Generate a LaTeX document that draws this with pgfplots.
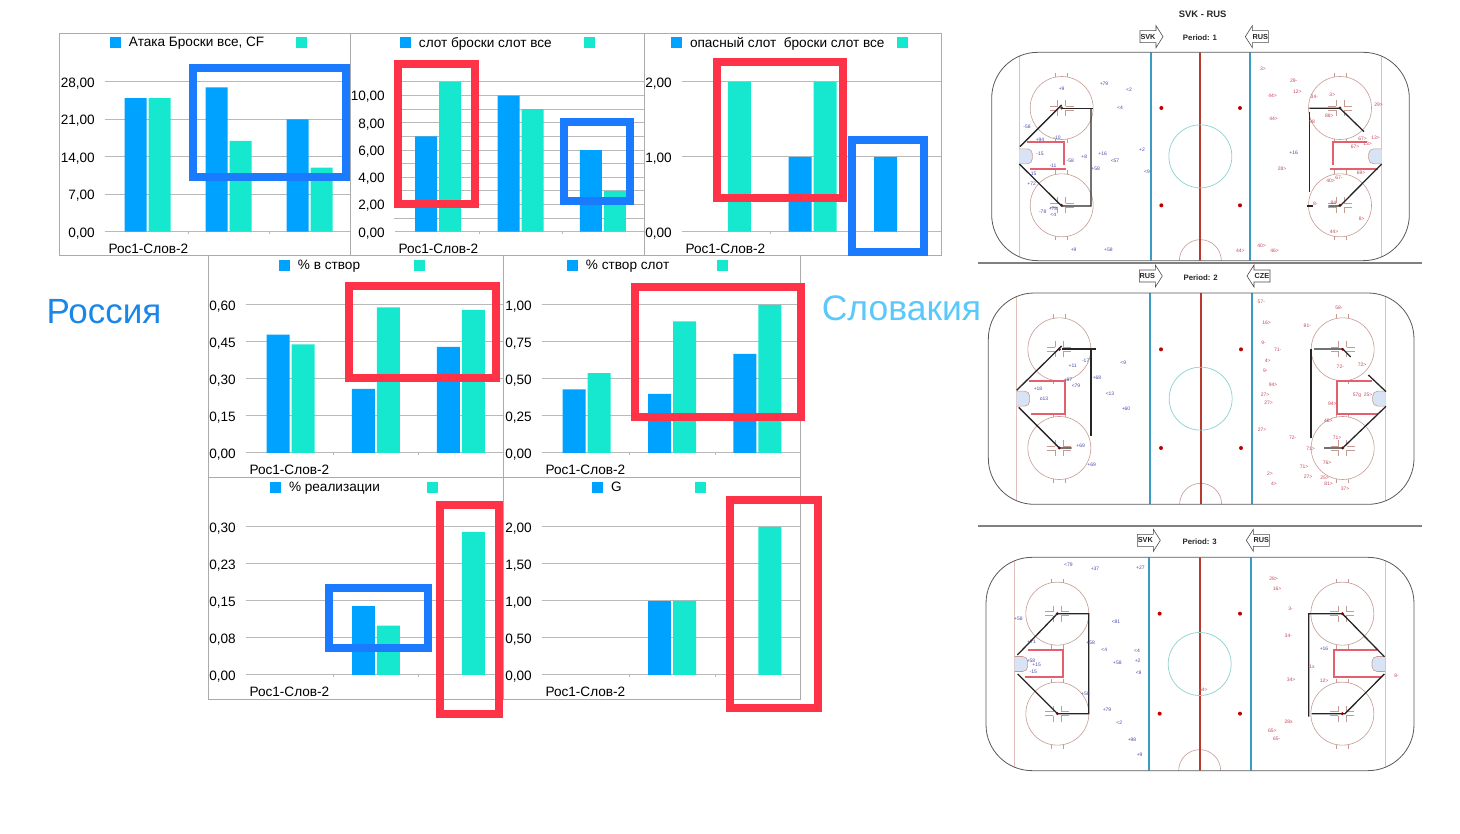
\documentclass[border=0pt]{standalone}
\usepackage{fontspec}
\setmainfont{Liberation Sans}
\usepackage{pgfplots}
\pgfplotsset{compat=1.18}

\definecolor{barblue}{HTML}{00A2FF}
\definecolor{barteal}{HTML}{16E7CF}
\definecolor{hlblue}{HTML}{1A7BFF}
\definecolor{hlred}{HTML}{FF3347}
\definecolor{gridgray}{HTML}{B9B9B9}
\definecolor{framegray}{HTML}{ABABAB}
\definecolor{rusblue}{HTML}{1A86E8}
\definecolor{svkblue}{HTML}{5AC8FA}
\definecolor{labblue}{HTML}{4A4AA8}
\definecolor{labred}{HTML}{C2485A}
\definecolor{rinkred}{HTML}{C49A92}
\definecolor{goalred}{HTML}{E0C0B8}
\definecolor{lineblue}{HTML}{3A9CC0}
\definecolor{linered}{HTML}{B83A2E}
\definecolor{zonered}{HTML}{E5606E}
\definecolor{creasefill}{HTML}{D8E4F5}
\definecolor{circteal}{HTML}{8CCFCF}

\newcommand{\tfont}{\fontsize{13.6}{16}\selectfont}

\pgfplotsset{
  panel/.style={
    scale only axis, anchor=south west, clip=false,
    ybar=2pt, xmin=-0.5, xmax=2.5, ymin=0,
    axis x line*=bottom, axis y line*=left,
    x axis line style={draw=gridgray, line width=1pt},
    y axis line style={draw=none},
    xtick={0.5,1.5,2.5}, xticklabels={},
    xtick style={draw=gridgray}, ytick style={draw=gridgray, line width=1pt},
    major tick length=2.5pt, tick align=outside,
    ymajorgrids=true, grid style={draw=gridgray, line width=1pt},
    /pgf/number format/.cd, fixed, fixed zerofill, precision=2, use comma, assume math mode=true,
    /pgfplots/.cd,
    ticklabel style={font=\tfont},
    yticklabel style={inner sep=0pt, xshift=-9.5pt, yshift=-1.5pt},
    xlabel={Рос1-Слов-2},
    x label style={at={(axis description cs:0,0)}, anchor=west, font=\tfont, yshift=-17pt, xshift=-2pt},
    legend cell align=left,
    legend image code/.code={\fill[##1] (0pt,-5.5pt) rectangle (11pt,5.5pt);},
  },
  leg/.style n args={3}{
    legend style={at={(axis description cs:#1,#2)}, anchor=west, draw=none, fill=none,
      inner sep=0pt, outer sep=0pt, font=\tfont, legend columns=2,
      nodes={inner sep=0pt},
      /tikz/column 1/.style={column sep=8pt},
      /tikz/column 2/.style={column sep=#3pt},
      /tikz/column 3/.style={column sep=0pt}},
  },
  sblue/.style={fill=barblue, draw=none},
  steal/.style={fill=barteal, draw=none},
  rink/.style={hide axis, scale only axis, anchor=south west, y dir=reverse,
    xmin=0, ymin=0, xmax=1350, clip=false, width=450pt},
  blk/.style={draw=black!85, line width=1.3pt},
  rd/.style={draw=zonered, line width=1.7pt},
  lab/.style={draw=none, mark=none, nodes near coords, point meta=explicit symbolic,
    nodes near coords align={anchor=center},
    every node near coord/.append style={text=#1, inner sep=0pt,
      font=\fontsize{5}{5}\selectfont}},
}

% face-off circle, hash marks and dot, sizes in page points
\newcommand{\faceoff}[2]{%
  \begin{scope}[shift={(axis cs:#1,#2)}]
    \draw[rinkred, line width=0.6pt] (0pt,0pt) circle[radius=31.5pt];
    \draw[rinkred, line width=0.6pt]
      (4pt,2pt)--(12pt,2pt) (4pt,2pt)--(4pt,8pt) (-4pt,2pt)--(-12pt,2pt) (-4pt,2pt)--(-4pt,8pt)
      (4pt,-2pt)--(12pt,-2pt) (4pt,-2pt)--(4pt,-8pt) (-4pt,-2pt)--(-12pt,-2pt) (-4pt,-2pt)--(-4pt,-8pt)
      (6pt,31pt)--(6pt,35pt) (-6pt,31pt)--(-6pt,35pt) (6pt,-31pt)--(6pt,-35pt) (-6pt,-31pt)--(-6pt,-35pt);
    \fill[red!70!black] (0pt,0pt) circle[radius=1.6pt];
  \end{scope}}
\newcommand{\crease}[2]{%
  \begin{scope}[shift={(axis cs:#1,\CY)}, xscale=#2]
    \draw[rinkred, fill=creasefill, line width=0.6pt, rounded corners=5pt]
      (0pt,7.5pt)--(13pt,7.5pt)--(13pt,-7.5pt)--(0pt,-7.5pt);
  \end{scope}}
\newcommand{\arrowbox}[4]{%
  \begin{scope}[shift={(axis cs:#1,#2)}, xscale=#3]
    \draw[black!70, fill=white, line width=0.6pt]
      (0pt,6pt)--(16pt,6pt)--(16pt,11pt)--(23pt,0pt)--(16pt,-11pt)--(16pt,-6pt)--(0pt,-6pt)--cycle;
    \node[font=\bfseries\fontsize{7.3}{8}\selectfont, black!85] at (8pt,0pt) {#4};
  \end{scope}}
\newcommand{\rinkbase}{%
  \begin{scope}
    \clip[rounded corners=46pt] (axis cs:\dL,\dT) rectangle (axis cs:\dR,\dB);
    \draw[goalred, line width=0.9pt] (axis cs:\GL,\dT)--(axis cs:\GL,\dB) (axis cs:\GR,\dT)--(axis cs:\GR,\dB);
    \draw[lineblue, line width=1.7pt] (axis cs:\BL,\dT)--(axis cs:\BL,\dB) (axis cs:\BR,\dT)--(axis cs:\BR,\dB);
    \draw[rinkred, line width=0.6pt] (axis cs:\CX,\dB) circle[radius=21pt];
    \draw[linered, line width=1.8pt] (axis cs:\CX,\dT)--(axis cs:\CX,\dB);
  \end{scope}
  \draw[black!65, line width=0.8pt, rounded corners=46pt] (axis cs:\dL,\dT) rectangle (axis cs:\dR,\dB);
  \draw[circteal, line width=0.7pt] (axis cs:\CX,\CY) circle[radius=31.5pt];
  \faceoff{\FL}{\YA}\faceoff{\FL}{\YB}\faceoff{\FR}{\YA}\faceoff{\FR}{\YB}
  \crease{\GL}{1}\crease{\GR}{-1}
  \fill[red!75!black] (axis cs:\DL,\YA) circle[radius=2pt] (axis cs:\DL,\YB) circle[radius=2pt]
    (axis cs:\DR,\YA) circle[radius=2pt] (axis cs:\DR,\YB) circle[radius=2pt];
}

\begin{document}
\begin{tikzpicture}
\path[use as bounding box] (0pt,0pt) rectangle (1460pt,834pt);

% ---- top row
\begin{axis}[panel, leg={0.0123}{1.262}{32}, at={(107pt,602.3pt)}, width=243pt, height=149.7pt,
    bar width=22pt, ymax=28, ytick={0,7,14,21,28}]
  \addplot[sblue] coordinates {(0,25) (1,27) (2,21)};
  \addlegendentry{Атака Броски все, CF}
  \addplot[steal] coordinates {(0,25) (1,17) (2,12)};
  \addlegendentry{}
\end{axis}
\begin{axis}[panel, leg={0.0121}{1.262}{32}, at={(397pt,602.3pt)}, width=247pt, height=149.7pt,
    bar width=22pt, ymax=11, ytick={0,2,4,6,8,10}, minor ytick={1,3,5,7,9,11}, yminorgrids=true,
    minor grid style={draw=gridgray, line width=1pt}]
  \addplot[sblue] coordinates {(0,7) (1,10) (2,6)};
  \addlegendentry{слот броски слот все}
  \addplot[steal] coordinates {(0,11) (1,9) (2,3)};
  \addlegendentry{}
\end{axis}
\begin{axis}[panel, leg={-0.0506}{1.262}{12}, at={(684pt,602.3pt)}, width=257pt, height=149.7pt,
    bar width=23pt, ymax=2, ytick={0,1,2}]
  \addplot[sblue] coordinates {(1,1) (2,1)};
  \addlegendentry{опасный слот\ \ броски слот все}
  \addplot[steal] coordinates {(0,2) (1,2)};
  \addlegendentry{}
\end{axis}

% ---- middle row
\begin{axis}[panel, leg={0.1213}{1.268}{54}, at={(248pt,381pt)}, width=255.5pt, height=148pt,
    bar width=23pt, ymax=0.6, ytick={0,0.15,0.3,0.45,0.6}]
  \addplot[sblue] coordinates {(0,0.48) (1,0.26) (2,0.43)};
  \addlegendentry{\% в створ}
  \addplot[steal] coordinates {(0,0.44) (1,0.59) (2,0.58)};
  \addlegendentry{}
\end{axis}
\begin{axis}[panel, leg={0.0898}{1.268}{48}, at={(544pt,381pt)}, width=256pt, height=148pt,
    bar width=23pt, ymax=1, ytick={0,0.25,0.5,0.75,1}]
  \addplot[sblue] coordinates {(0,0.43) (1,0.40) (2,0.67)};
  \addlegendentry{\% створ слот}
  \addplot[steal] coordinates {(0,0.54) (1,0.89) (2,1.00)};
  \addlegendentry{}
\end{axis}

% ---- bottom row
\begin{axis}[panel, leg={0.0861}{1.268}{47}, at={(248pt,159pt)}, width=255.5pt, height=148pt,
    bar width=23pt, ymax=0.3, ytick={0,0.075,0.15,0.225,0.3},
    yticklabels={{0,00},{0,08},{0,15},{0,23},{0,30}}]
  \addplot[sblue] coordinates {(1,0.14)};
  \addlegendentry{\% реализации}
  \addplot[steal] coordinates {(1,0.10) (2,0.29)};
  \addlegendentry{}
\end{axis}
\begin{axis}[panel, leg={0.1875}{1.268}{73}, at={(544pt,159pt)}, width=256pt, height=148pt,
    bar width=23pt, ymax=2, ytick={0,0.5,1,1.5,2}]
  \addplot[sblue] coordinates {(1,1)};
  \addlegendentry{G}
  \addplot[steal] coordinates {(1,1) (2,2)};
  \addlegendentry{}
\end{axis}

% ---- rink 1
\def\dL{35}\def\dR{1288}\def\dT{157}\def\dB{782}\def\GL{118}\def\GR{1205}\def\BL{513}\def\BR{811}
\def\CX{661}\def\CY{469}\def\FL{245}\def\FR{1080}\def\YA{324}\def\YB{616}\def\DL{544}\def\DR{780}
\begin{axis}[rink, ymax=810, height=270pt, at={(980pt,564pt)}]
  \rinkbase
  \addplot[rd] coordinates {(140,425) (253,425) (253,495)};
  \addplot[rd] coordinates {(150,506) (258,506)};
  \addplot[rd] coordinates {(1160,425) (1060,425) (1060,495)};
  \addplot[rd] coordinates {(1050,506) (1195,506)};
  \addplot[blk] coordinates {(120,440) (245,315)};
  \addplot[blk] coordinates {(245,325) (340,325)};
  \addplot[blk] coordinates {(333,325) (333,618) (245,618) (118,492)};
  \addplot[blk] coordinates {(988,325) (1080,325) (1152,395)};
  \addplot[blk] coordinates {(988,335) (988,575)};
  \addplot[blk] coordinates {(980,618) (1000,618)};
  \addplot[blk] coordinates {(1045,618) (1080,618) (1205,492)};
  \addplot[lab=labblue] table[meta=l] {
x y l
372 250 +79
447 270 <2
245 265 +9
420 322 <4
141 381 -58
180 418 +94
231 413 -10
180 462 -15
271 482 -58
313 471 +8
368 461 +16
405 481 <57
486 450 +2
219 498 -11
347 505 +58
501 514 <9
161 521 15
155 551 +72
219 627 +78
188 634 -78
220 643 <4
281 750 +9
385 748 +58
941 459 +16
};
  \addplot[lab=labred] table[meta=l] {
x y l
849 207 3>
941 243 29-
952 276 12>
878 288 44>
1003 290 34-
1057 284 3>
1196 313 29>
1048 347 88>
881 356 44>
996 364 98
1148 416 67>
1187 412 13>
1163 430 13>
1125 441 67>
906 506 28>
1143 517 69>
1077 533 67-
1052 541 40>
1006 611 8-
1060 607 84
1145 655 8>
1062 696 44>
781 752 44>
845 737 40>
884 752 46>
};
  \arrowbox{480}{110}{1}{SVK}
  \arrowbox{865}{110}{-1}{RUS}
  \node[font=\bfseries\fontsize{9.4}{10}\selectfont, black!85] at (axis cs:668,42) {SVK - RUS};
  \node[font=\bfseries\fontsize{7.8}{9}\selectfont, black!85] at (axis cs:660,113) {Period: 1};
\end{axis}

% ---- rink 2
\def\dL{25}\def\dR{1302}\def\dT{84}\def\dB{718}\def\GL{110}\def\GR{1217}\def\BL{511}\def\BR{815}
\def\CX{662}\def\CY{401}\def\FL{238}\def\FR{1088}\def\YA{253}\def\YB{549}\def\DL{543}\def\DR{783}
\begin{axis}[rink, ymax=780, height=260pt, at={(980pt,309pt)}]
  \rinkbase
  \addplot[rd] coordinates {(148,349) (255,349) (255,447) (152,447)};
  \addplot[rd] coordinates {(1175,349) (1071,349) (1071,447) (1195,447)};
  \addplot[blk] coordinates {(110,376) (245,243)};
  \addplot[blk] coordinates {(245,252) (347,252)};
  \addplot[blk] coordinates {(333,252) (333,513)};
  \addplot[blk] coordinates {(116,427) (238,549) (275,549)};
  \addplot[blk] coordinates {(1002,252) (1088,252) (1112,276)};
  \addplot[blk] coordinates {(993,252) (993,520)};
  \addplot[blk] coordinates {(1032,549) (1088,549) (1218,424)};
  \addplot[blk] coordinates {(1165,330) (1218,380)};
  \addplot[lab=labblue] table[meta=l] {
x y l
317 287 -17
278 301 +11
430 292 <9
351 337 +68
264 345 +87
288 362 <79
174 370 +18
390 387 <13
192 400 o13
438 432 +60
302 543 +69
335 598 +69
};
  \addplot[lab=labred] table[meta=l] {
x y l
844 109 57-
1077 128 58-
860 174 16>
982 182 81-
851 233 9-
893 253 71-
863 287 4>
856 317 9-
1081 304 72-
1146 298 72>
879 360 94>
855 388 27>
866 414 27>
1131 392 57g
1164 390 25>
1057 416 94>
1045 468 46>
846 495 27>
938 517 72-
1071 517 71>
992 550 71>
1041 594 76>
972 604 71>
870 625 2>
984 634 27>
1034 638 25>
882 656 4>
1046 656 81>
1095 672 37>
};
  \arrowbox{478}{33}{1}{RUS}
  \arrowbox{870}{33}{-1}{CZE}
  \node[font=\bfseries\fontsize{7.8}{9}\selectfont, black!85] at (axis cs:662,38) {Period: 2};
\end{axis}

% ---- rink 3
\def\dL{18}\def\dR{1302}\def\dT{97}\def\dB{737}\def\GL{104}\def\GR{1215}\def\BL{506}\def\BR{812}
\def\CX{659}\def\CY{417}\def\FL{232}\def\FR{1087}\def\YA{266}\def\YB{566}\def\DL{539}\def\DR{780}
\begin{axis}[rink, ymax=765, height=255pt, at={(980pt,54pt)}]
  \rinkbase
  \addplot[rd] coordinates {(145,374) (248,374) (248,457) (135,457)};
  \addplot[rd] coordinates {(1190,374) (1063,374) (1063,457) (1205,457)};
  \addplot[blk] coordinates {(112,390) (232,266) (326,266) (326,566) (232,566) (113,447)};
  \addplot[blk] coordinates {(986,575) (986,266) (1087,266) (1213,395)};
  \addplot[blk] coordinates {(995,566) (1095,566) (1213,447)};
  \addplot[lab=labblue] table[meta=l] {
x y l
265 120 <79
345 130 +37
481 127 +27
115 282 +58
408 290 <81
155 351 +71
332 354 +58
373 373 <4
471 378 <4
153 407 +58
170 418 +15
160 440 -15
412 412 +58
473 408 +2
476 442 <9
316 507 +58
381 553 +79
418 593 <2
456 645 +98
479 690 +9
1032 371 +16
};
  \addplot[lab=labred] table[meta=l] {
x y l
881 160 28>
891 191 16>
932 251 3-
925 332 34-
996 425 1x
933 465 34>
1032 467 12>
1250 452 8-
670 494 64>
926 590 28x
877 616 65>
890 642 65-
};
  \arrowbox{472}{46}{1}{SVK}
  \arrowbox{868}{46}{-1}{RUS}
  \node[font=\bfseries\fontsize{7.8}{9}\selectfont, black!85] at (axis cs:659,50) {Period: 3};
\end{axis}

% ---- frames, highlight boxes and titles, in reference pixels
\begin{scope}[x=1pt, y=-1pt, yshift=834pt]
  \draw[framegray, line width=0.9pt] (59,33) rectangle (941,255) (350,33)--(350,255) (644,33)--(644,255);
  \draw[framegray, line width=0.9pt] (208,255) rectangle (800,699) (208,477)--(800,477) (503.5,255)--(503.5,699);
  \draw[gray, line width=1.3pt] (978,263)--(1422,263) (978,526)--(1422,526);
  \draw[hlblue, line width=8pt] (193,68) rectangle (346,177);
  \draw[hlred, line width=8pt] (398,64) rectangle (475,204);
  \draw[hlblue, line width=8pt] (564,122) rectangle (630,201);
  \draw[hlred, line width=8pt] (717,62) rectangle (843,198);
  \draw[hlblue, line width=8pt] (852,140) rectangle (924,252);
  \draw[hlred, line width=8pt] (349,286) rectangle (496,378);
  \draw[hlred, line width=8pt] (635,287) rectangle (801,417);
  \draw[hlblue, line width=8pt] (329,588) rectangle (428,648);
  \draw[hlred, line width=8pt] (440,505) rectangle (499,714);
  \draw[hlred, line width=8pt] (730,500) rectangle (818,708);
  \node[rusblue, font=\fontsize{35}{40}\selectfont] at (104,312) {Россия};
  \node[svkblue, font=\fontsize{35.5}{40}\selectfont] at (901.5,308) {Словакия};
\end{scope}
\end{tikzpicture}
\end{document}
